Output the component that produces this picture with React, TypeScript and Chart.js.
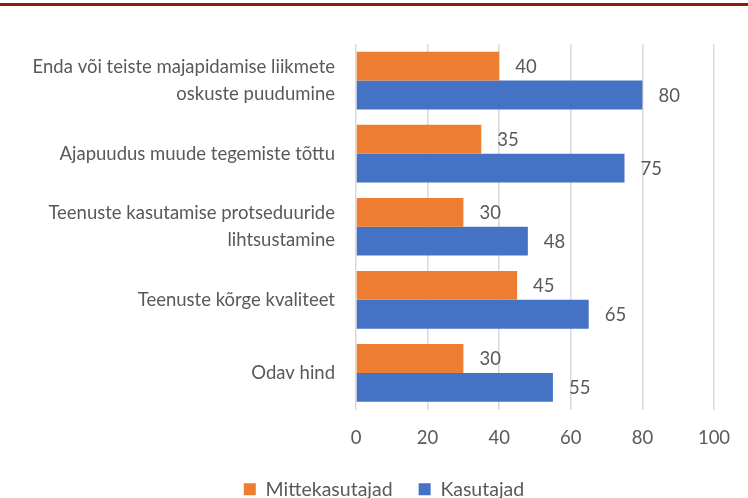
import React, { useEffect, useRef } from "react";
import { Chart, registerables } from "chart.js";

Chart.register(...registerables);

const categories: (string | string[])[] = [
  ["Enda või teiste majapidamise liikmete", "oskuste puudumine"],
  "Ajapuudus muude tegemiste tõttu",
  ["Teenuste kasutamise protseduuride", "lihtsustamine"],
  "Teenuste kõrge kvaliteet",
  "Odav hind",
];
const seriesNames = ["Mittekasutajad", "Kasutajad"];
const mittekasutajad = [40, 35, 30, 45, 30];
const kasutajad = [80, 75, 48, 65, 55];
const xTicks = [0, 20, 40, 60, 80, 100];

const TEXT = "#595959";
const FONT = "Lato, 'Liberation Sans', sans-serif";

const valueLabels = {
  id: "valueLabels",
  afterDatasetsDraw(chart: any) {
    const ctx = chart.ctx;
    ctx.save();
    ctx.font = `18.5px ${FONT}`;
    ctx.fillStyle = TEXT;
    ctx.textAlign = "left";
    ctx.textBaseline = "middle";
    chart.data.datasets.forEach((ds: any, di: number) => {
      const meta = chart.getDatasetMeta(di);
      meta.data.forEach((el: any, i: number) => {
        ctx.fillText(String(ds.data[i]), el.x + 16, el.y + 1);
      });
    });
    ctx.restore();
  },
};

// nudge the legend horizontally so it sits where the reference has it
const legendShift = {
  id: "legendShift",
  afterLayout(chart: any) {
    const lg = chart.legend;
    if (lg) {
      lg.left += 27;
      lg.right += 27;
    }
  },
};

export default function App() {
  const ref = useRef<HTMLCanvasElement>(null);
  useEffect(() => {
    if (!ref.current) return;
    const chart = new Chart(ref.current, {
      type: "bar",
      data: {
        labels: categories,
        datasets: [
          {
            label: seriesNames[0],
            data: mittekasutajad,
            backgroundColor: "#ED7D31",
            categoryPercentage: 0.79,
            barPercentage: 1,
          },
          {
            label: seriesNames[1],
            data: kasutajad,
            backgroundColor: "#4472C4",
            categoryPercentage: 0.79,
            barPercentage: 1,
          },
        ],
      },
      options: {
        indexAxis: "y",
        animation: false,
        responsive: false,
        maintainAspectRatio: false,
        layout: { padding: { top: 44, right: 34, left: 0, bottom: 0 } },
        scales: {
          x: {
            min: 0,
            max: 100,
            afterBuildTicks: (scale: any) => {
              scale.ticks = xTicks.map((v) => ({ value: v }));
            },
            afterFit: (scale: any) => {
              scale.height = 44;
            },
            grid: { color: "#D9D9D9", lineWidth: 1.5, drawTicks: false },
            border: { display: false },
            ticks: {
              color: TEXT,
              font: { family: FONT, size: 18.5 },
              padding: 17,
            },
          },
          y: {
            grid: { display: false, drawTicks: false },
            border: { display: false },
            afterFit: (scale: any) => {
              scale.width = 356;
            },
            ticks: {
              color: TEXT,
              font: { family: FONT, size: 18.5, lineHeight: 1.46 },
              padding: 21,
            },
          },
        },
        plugins: {
          legend: {
            position: "bottom",
            labels: {
              color: TEXT,
              font: { family: FONT, size: 19.5 },
              boxWidth: 12,
              boxHeight: 12,
              padding: 26,
            },
          },
          tooltip: { enabled: false },
        },
      },
      plugins: [valueLabels, legendShift],
    } as any);
    return () => chart.destroy();
  }, []);

  return (
    <div
      style={{
        position: "fixed",
        left: 0,
        top: 0,
        width: 748,
        height: 498,
        overflow: "hidden",
        background: "#fff",
      }}
    >
      <div
        style={{
          position: "absolute",
          left: 0,
          top: 3,
          width: 748,
          height: 3,
          background: "#8E1A0C",
        }}
      />
      <canvas
        ref={ref}
        width={748}
        height={509}
        style={{ position: "absolute", left: 0, top: 0, width: 748, height: 509 }}
      />
    </div>
  );
}
